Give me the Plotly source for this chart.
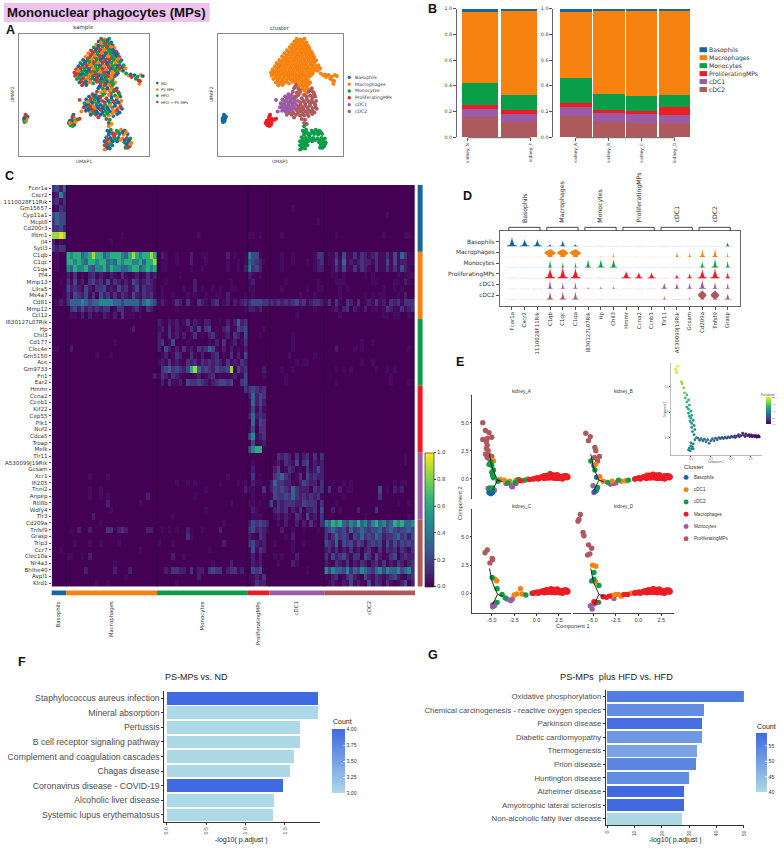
"""Mononuclear phagocytes (MPs): multi-panel figure, panels A to G."""
import plotly.graph_objects as go

W, H = 784, 849
MPL = "DejaVu Sans"
ARIAL = "Liberation Sans"

BLUE, ORANGE, GREEN, RED, PURPLE, BROWN = "#17679f", "#f8820f", "#0a9e48", "#ed1c24", "#9c5ba5", "#ae5a5c"
CLUSTERS = ["Basophils", "Macrophages", "Monocytes", "ProliferatingMPs", "cDC1", "cDC2"]
CLUSTER_COLORS = [BLUE, ORANGE, GREEN, RED, PURPLE, BROWN]

# Panel A: UMAP points per cluster, read in picture units
UMAP_MAC = [(240,20),(252,22),(263,20),(233,28),(246,30),(258,29),(269,31),(226,37),(238,38),(251,39),(262,41),(273,40),
            (219,46),(231,47),(243,49),(256,48),(268,50),(278,48),(211,55),(224,57),(236,58),(248,59),(260,58),(272,60),
            (283,58),(203,64),(216,66),(229,67),(241,68),(253,69),(266,67),(278,69),(288,66),(196,74),(208,76),(221,76),
            (233,78),(246,77),(258,79),(270,78),(283,78),(292,75),(188,84),(200,85),(213,86),(226,87),(238,86),(251,88),
            (263,89),(276,87),(288,88),(298,85),(180,93),(193,95),(206,96),(218,95),(231,97),(243,98),(256,97),(268,98),
            (281,97),(293,99),(175,103),(187,104),(199,106),(212,105),(224,107),(237,106),(249,108),(262,107),(274,108),
            (286,107),(300,106),(168,112),(180,114),(193,115),(205,116),(218,115),(230,117),(243,116),(255,118),(268,117),
            (280,116),(293,115),(163,122),(175,124),(187,125),(200,124),(212,126),(225,125),(237,127),(250,126),(262,127),
            (275,125),(288,124),(165,132),(178,134),(190,133),(203,135),(215,134),(228,136),(240,135),(253,137),(265,136),
            (278,134),(170,142),(183,144),(196,143),(209,145),(222,144),(235,146),(248,145),(260,147),(273,144),(178,152),
            (190,154),(203,153),(217,155),(238,154),(252,156),(266,155),(280,152),(185,161),(197,160),(245,165),(258,166),
            (271,165),(252,175),(264,177),(276,174),(250,185),(268,186),(303,117),(312,125),(320,131),(328,136),(336,130),
            (345,135),(354,130),(360,133),(340,141),(348,146),(350,156),(352,148),(325,128),(305,100),(310,110),
            (246,25),(258,25),(239,33),(252,34),(263,35),(232,42),(245,43),(257,44),(270,45),(225,52),(237,53),(250,54),
            (262,54),(274,54),(217,61),(230,62),(242,63),(254,64),(266,63),(278,63),(210,70),(222,71),(235,72),(247,73),
            (259,73),(272,73),(284,72),(202,80),(214,81),(227,82),(239,82),(252,83),(264,83),(276,82),(290,81),(194,90),
            (206,90),(219,91),(232,92),(244,92),(257,93),(269,92),(282,92),(294,90),(186,99),(198,100),(211,100),(224,102),
            (236,102),(248,103),(261,102),(273,103),(287,102),(181,109),(192,110),(205,111),(218,110),(230,112),(243,111),
            (255,113),(268,112),(280,112),(292,110),(172,118),(185,119),(197,120),(210,120),(222,121),(235,121),(248,122),
            (260,122),(272,120),(285,120),(170,127),(182,129),(194,129),(207,130),(220,130),(233,131),(246,131),(258,132),
            (270,131),(284,129),(176,138),(188,139),(201,139),(214,140),(228,140),(241,140),(254,142),(267,141),(183,148),
            (196,149),(209,150),(228,150),(243,150),(257,151),(271,149),(250,160),(262,160),(275,158),(258,171),(270,170)]
UMAP_CDC2 = [(238,160),(232,170),(245,172),(228,180),(240,183),(285,170),(275,180),(290,182),(262,190),(280,192),(295,195),
             (255,200),(270,203),(285,205),(298,208),(250,212),(265,215),(280,216),(295,220),(245,224),(258,227),(272,228),
             (288,230),(300,232),(240,236),(252,239),(266,240),(280,241),(293,243),(225,250),(238,250),(250,252),(262,252),
             (275,254),(255,263),(265,265),(262,275),(270,278),(232,258),(218,245),(245,190),(250,178),(235,195),
             (235,165),(283,176),(292,188),(270,196),(287,198),(260,208),(275,210),(290,213),(252,220),(266,222),(280,223),
             (296,226),(248,231),(260,234),(274,235),(286,236),(244,244),(258,246),(272,247),(286,248),(230,245)]
UMAP_CDC1 = [(215,188),(225,190),(205,195),(215,198),(228,200),(238,196),(197,204),(208,207),(220,209),(232,211),(243,208),
             (192,215),(203,218),(215,220),(227,222),(238,220),(190,227),(200,230),(212,232),(224,233),(235,232),(196,238),
             (207,241),(218,243),(210,250),(178,205),(183,240),(245,230),(220,193),(210,202),(222,204),(233,205),(202,211),
             (214,213),(226,216),(197,221),(208,225),(219,227),(231,227),(204,235),(216,237),(226,240)]
UMAP_MONO = [(262,285),(268,295),(258,298),(272,305),(262,310),(285,298),(297,295),(308,298),(280,308),(292,308),(304,310),
             (316,308),(255,318),(266,320),(278,318),(290,320),(302,322),(314,320),(324,322),(250,330),(262,332),(274,330),
             (286,330),(307,333),(318,333),(327,335),(250,342),(262,344),(272,342),(312,345),(322,345),(255,352),(265,352),
             (310,350),(250,355),(263,302),(275,311),(290,303),(302,303),(312,303),(258,325),(270,326),(282,324),(296,326),
             (308,327),(320,327),(256,337),(268,338),(313,339),(324,339),(258,348),(317,350)]
UMAP_PROLIF = [(160,250),(157,260),(165,262),(150,268),(160,270),(172,265),(147,275),(155,278),(163,280),(178,262),(152,282),
               (155,268),(165,272),(158,255),(150,275),(158,284)]
UMAP_BASO = [(22,250),(28,256),(20,258),(25,262),(18,266),(22,270),(19,272),(24,254),(24,268),(18,261)]
SAMPLE_NAMES = ["ND", "PS-MPs", "HFD", "HFD + PS-MPs"]
SAMPLE_COLORS = [BLUE, ORANGE, GREEN, "#c8383c"]
# sample of each UMAP point, same order as the cluster lists above
SAMPLE_CODES = ("3120230132102312013203123120321301231023130212033120231032012301322103120312023102313202130"
                "2310321203102320130231203123021301233102302130210231302120132023103120321020313012031203"
                "3210231302120312013203201231023120321301230213023102312302130132023120130231023120320132"
                "0130210320103021032013021003201030210320130210032010302103201003201301203100320102031003"
                "0120302103010203013201002013201030210320130210032010302103201032013123031202310313213")

# Panel B: stacked fractions, one list per cluster, groups kidney_N/F then A/B/C/D
SAMPLES_B1 = ["kidney_N", "kidney_F"]
SAMPLES_B2 = ["kidney_A", "kidney_B", "kidney_C", "kidney_D"]
FRAC_CDC2 = [0.155, 0.116, 0.165, 0.119, 0.113, 0.113]
FRAC_CDC1 = [0.067, 0.064, 0.072, 0.069, 0.073, 0.060]
FRAC_PROLIF = [0.025, 0.034, 0.031, 0.023, 0.015, 0.059]
FRAC_MONO = [0.171, 0.111, 0.191, 0.127, 0.116, 0.100]
FRAC_MAC = [0.556, 0.665, 0.515, 0.641, 0.673, 0.653]
FRAC_BASO = [0.026, 0.010, 0.026, 0.021, 0.010, 0.015]

# Panel C: heatmap
GENES = ["Fcer1a", "Cxcr2", "1110028F11Rik", "Gm15657", "Cyp11a1", "Mcpt8", "Cd200r3", "Ifitm1", "Il4", "Sytl3",
         "C1qb", "C1qc", "C1qa", "Pf4", "Mmp13", "Lilra5", "Ms4a7", "Cd81", "Mmp12", "Ccl12",
         "I830127L07Rik", "Hp", "Chil3", "Cd177", "Clec4e", "Gm5150", "Ace", "Gm9733", "Fn1", "Ear2",
         "Hmmr", "Ccna2", "Ccnb1", "Kif22", "Cep55", "Plk1", "Nuf2", "Cdca5", "Troap", "Melk",
         "Tlr11", "A530099J19Rik", "Gcsam", "Xcr1", "Ifi205", "Tnni2", "Anpep", "Rtl8b", "Wdfy4", "Tlr3",
         "Cd209a", "Tnfsf9", "Grasp", "Trip3", "Ccr7", "Clec10a", "Nr4a3", "Bhlhe40", "Avpl1", "Klrd1"]
HEAT_GROUP_CELLS = [4, 25, 25, 6, 15, 25]
HEAT_LEVELS = [0, 0.03, 0.08, 0.14, 0.22, 0.32, 0.46, 0.62, 0.85, 0.95]
# one row per gene, digit = index into HEAT_LEVELS, groups by cluster, short groups end in zeros
HEAT_ROWS = [
    "3425 0 0 0 0 0",
    "1263 0 0 0 0 0",
    "2313 0 0 0 0 0",
    "0132 0 0 0 0000001 0",
    "4544 0 0 0 0 000000000000000001",
    "3544 0 0 0 00000000000001 0",
    "3342 0 0 0 0 0",
    "8898 0000000000000001 000000000001 110100 0001 0001000000000000100000110",
    "2010 0000000000001 0 0 0 0",
    "3233 0 0 0 0 0",
    "0100 7677567877567776578767787 0210010002001100000201001 644100 000100100000133 0113041131321231131415311",
    "0100 7767657767756576776675778 0110010002000100000100101 543210 000100100010123 0114151212322131141412211",
    "0100 6576675466757665567756767 0110000001001000000100102 634200 000100000000122 0013141131321031131314210",
    "0000 2030102312102103101201312 0000001000000000000000000 210100 0 0011010000010100000010111",
    "0010 3141203423141321214312321 0010000000200000000010000 120000 000010000000010 0001110000000110000110210",
    "0000 4232142033412142312413221 0100000100201001010011000 110000 000100000010011 0000101000000000100101000",
    "0001 3143241304231313214213231 0100100010100100110200001 010000 000000001000100 0000100000010101100010200",
    "0121 3555654556666554555535654 1210132031032102301202123 344433 323232342312332 1303103203012131203231333",
    "0000 0342423232330133112310320 0000010000000000000000001 221200 000000000000100 0012023021020110132113123",
    "0000 0110202010210203111010000 0 0 000000010000000 0000100000000000110110010",
    "0 0 2102120130210220010202523 0 0 0",
    "0 000000000000000000200 1203021013140340102301434 000010 0 0",
    "0 0 2103120201301023101203204 000100 000000100000000 0",
    "0 00000000000001 2301400010000010203012013 0 000000100000000 000000000010010",
    "1100 02 2042020312032354102020102 0 000000100000000 0002000010100000000000010",
    "0 00000000100010 0120132003102002301030204 0 000001000000100 0",
    "0 0 1213121032313232320312132 0 0000000101100 0000000000100100",
    "0 0 0345343247853432433480423 000020 000100100000000 0001010100000010010100",
    "0 0000000000000000000000002 1320321000120123010012014 000010 000010000000000 0000000000000000001",
    "0 0 0203112043343212344340034 0 000010000000000 0001000000000000001000010",
    "0 0 0000000000000000000000003 343230 0 0",
    "0 0 0 252430 0 0",
    "0 0 0 152420 0 0",
    "0 0 0 141310 0 0",
    "0 0 0 252320 0 0",
    "0 0 0 051430 0 0",
    "0 0 0 140330 0 0",
    "0 0 0 461230 0 0",
    "0 0 0 040120 0 0",
    "0 0 0 467700 0 0",
    "0 0 0 000000 003232030230303 0000000000000000000000100",
    "0 0 0 010000 012032140340212 0000000000000000000000100",
    "0 0 0 020000 024013201031242 0",
    "0 00000010000100 000000000000000000010 030100 034532013042322 0",
    "0 0 0000010010100000010000101 021100 253322102432203 0010010100000000000101100",
    "0 000000100100000 0000000000000100000000002 110030 243432532220323 0300201100000004010212",
    "0 0000001001010000000000200 00000000001 010010 143343532323231 0000010000000003000000",
    "1000 00000000000200000000100 000000000000000000001 110100 413233322433303 0001000000000000000010010",
    "0 00000000000010 0000000000000100 021000 023230213022304 002010000200003000",
    "0 0000000200000000000000 0000100000000 011100 012121032041203 0000000000010000000000010",
    "0 00000000010000000000 0000000000000000001 243432 001020020203103 6576754657564675645767556",
    "0 0102002000033023200000220 0101010020001000020000000 342321 000200100100010 3454342534543445345434454",
    "0 0 0000000031 210320 000010200000000 3135343143534354233453424",
    "0 00100010010000100000000003 1000100000000000002 342120 010000100100000 4325143424313434142424343",
    "0010 00000000000000000000100 00000000000000100 141320 000000100000000 2313021312023103132313213",
    "0 1100102000000000000000000 0000200100000000 020200 010100020000000 3142342133043142013402322",
    "0 0000000000000100000000 00000000000000010000200 021200 001000210000000 2103213021320231302132023",
    "0 00000200000002000200000000 0021332203022034330233120 043400 000000000010000 6465546354654356465564563",
    "0 00000000000000001 0000000000020000000 012130 0 1023013421042132123421023",
    "0 00000000100100 00000100000000 013220 0 0121021412104132031012402",
]

# Panel D: violins, peak height and base half width in pixels, rows are clusters
VIOLIN_GENES = ["Fcer1a", "Cxcr2", "1110028F11Rik", "C1qb", "C1qc", "C1qa", "I830127L07Rik", "Hp", "Chil3",
                "Hmmr", "Ccna2", "Ccnb1", "Tlr11", "A530099J19Rik", "Gcsam", "Cd209a", "Tnfsf9", "Grasp"]
VIOLIN_H = [[9, 7, 7, 2, 6, 2, 0, 0, 0, 0, 0, 0, 0, 0, 0, 0, 0, 4],
            [0, 0, 0, 8, 8, 8, 0, 1, 5, 0, 0, 0, 0, 6, 5, 8, 9, 6],
            [0, 0, 0, 8, 6, 6, 8, 8, 8, 0, 0, 0, 0, 0, 0, 6, 9, 7],
            [0, 0, 0, 10, 11, 10, 0, 0, 0, 7, 6, 6, 0, 4, 5, 9, 10, 6],
            [0, 0, 0, 9, 7, 7, 2, 3, 3, 0, 0, 0, 6, 6, 6, 9, 7, 6],
            [0, 0, 0, 8, 8, 8, 0, 0, 0, 0, 0, 0, 4, 1, 3, 9, 9, 6]]
VIOLIN_W = [[5, 5, 4.5, 3, 3, 3, 0, 0, 0, 0, 0, 0, 0, 0, 0, 0, 0, 2],
            [0, 0, 0, 6, 6, 6, 0, 1, 1, 0, 0, 0, 0, 1.5, 1.5, 2.5, 2.5, 1],
            [0, 0, 0, 2, 1.5, 1.5, 3, 3.5, 3.5, 0, 0, 0, 0, 0, 0, 2.5, 3, 2],
            [0, 0, 0, 5, 5, 5, 0, 0, 0, 5, 4, 4, 0, 2.5, 2.5, 4.5, 4.5, 2.5],
            [0, 0, 0, 2.5, 2, 2, 1.5, 1.5, 1.5, 0, 0, 0, 3, 2.5, 2.5, 3.5, 2.5, 2],
            [0, 0, 0, 3, 3, 3, 0, 0, 0, 0, 0, 0, 1.5, 1, 1, 4.5, 4.5, 3]]
VIOLIN_BLOBS = [(1, 3), (1, 4), (1, 5), (5, 15), (5, 16)]
SPIKE_PROFILE = [(0, 1.0), (0.08, 1.0), (0.14, 0.5), (0.4, 0.26), (0.7, 0.12), (1, 0.02)]
BLOB_PROFILE = [(0, 0.5), (0.12, 0.3), (0.32, 0.75), (0.5, 1.0), (0.68, 0.75), (0.88, 0.3), (1, 0.05)]

# Panel E: trajectory points (x, y, cluster code) for each kidney
E_NAMES = {"B": "Basophils", "1": "cDC1", "2": "cDC2", "M": "Macrophages", "N": "Monocytes", "P": "ProliferatingMPs"}
E_COLORS = {"B": BLUE, "1": ORANGE, "2": GREEN, "M": RED, "N": PURPLE, "P": BROWN}
E_ORDER = ["P", "N", "B", "1", "2", "M"]
TRUNK_RED = [(-0.2,0.05),(0.2,0.0),(0.5,0.15),(0.7,0.1),(1.0,0.2),(1.3,0.3),(1.5,0.2),(1.7,0.35),(1.9,0.2),(2.0,0.35),
             (2.2,0.15),(2.4,0.3),(2.6,0.15),(2.8,0.25),(3.0,0.1),(3.2,0.2),(3.4,0.1),(3.4,0.25),(2.2,0.3),(1.2,0.1),
             (0.9,0.05),(3.1,0.3),(2.7,0.05),(0.35,0.1),(0.6,0.2),(0.85,0.25),(1.1,0.32),(1.4,0.08),(1.6,0.42),(1.8,0.08),
             (2.1,0.05),(2.3,0.38),(2.5,0.05),(2.9,0.0),(3.3,0.3),(3.5,0.17),(0.05,0.12),(-0.4,0.0)]
E_A = [(-6.0,5.0,"P"),(-5.7,4.3,"P"),(-5.3,4.1,"P"),(-5.0,3.7,"P"),(-5.5,3.6,"P"),(-6.0,3.5,"P"),(-5.6,3.3,"P"),(-5.5,3.0,"P"),
       (-5.6,2.7,"P"),(-5.4,2.5,"P"),(-5.7,2.2,"P"),(-5.3,2.1,"P"),(-5.0,2.0,"P"),(-5.5,1.9,"P"),(-5.2,1.7,"P"),
       (-5.0,1.7,"1"),(-4.8,1.6,"1"),(-5.1,1.5,"2"),(-5.3,1.3,"2"),(-5.0,1.2,"2"),(-4.8,0.8,"2"),(-5.0,0.6,"2"),(-4.9,0.3,"2"),
       (-4.8,0.1,"2"),(-5.4,-0.85,"N"),(-4.7,-1.0,"N"),(-5.2,-0.8,"2"),(-4.9,-0.8,"2"),(-5.1,-1.3,"B"),(-5.3,-1.2,"B"),(-4.9,-1.2,"B"),
       (-3.4,-0.4,"N"),(-2.8,-0.6,"N"),(-2.7,-0.7,"N"),(-2.3,-0.4,"N"),(-4.1,-0.05,"1"),(-3.6,-0.1,"1"),(-3.0,-0.2,"1"),
       (-2.3,-0.1,"1"),(-1.5,-0.15,"1"),(-1.0,0.0,"1"),(-0.3,0.0,"1"),(1.1,0.15,"1"),(-4.3,-0.2,"2"),(-3.2,-0.35,"2"),
       (-2.4,-0.3,"2"),(-2.0,-0.05,"2"),(-1.3,-0.1,"2"),(-1.8,-0.15,"M"),(-0.8,-0.05,"M"),(0.3,0.05,"2"),(0.8,0.3,"2"),(1.5,0.5,"2")]
E_B = [(-5.8,4.06,"P"),(-5.3,3.76,"P"),(-5.5,3.4,"P"),(-4.8,2.8,"P"),(-4.7,2.5,"P"),(-4.85,1.9,"P"),(-4.3,2.0,"P"),(-4.5,1.6,"P"),
       (-5.25,1.6,"2"),(-4.7,1.3,"1"),(-4.9,1.2,"B"),(-4.6,0.15,"B"),(-4.8,0.8,"2"),(-4.25,0.2,"1"),(-5.0,-0.6,"N"),(-4.5,-0.75,"2"),
       (-4.8,-1.1,"B"),(-4.6,-1.0,"N"),(-4.9,-1.2,"N"),(-3.9,-0.2,"1"),(-3.4,-0.3,"2"),(-3.1,-0.45,"N"),(-2.8,-0.4,"N"),(-2.5,-0.35,"N"),
       (-2.9,-0.2,"1"),(-2.2,-0.1,"2"),(-1.9,-0.2,"1"),(-1.4,-0.15,"1"),(-1.1,-0.1,"2"),(-0.4,0.0,"2"),(-0.1,0.05,"1"),(0.4,0.1,"M"),
       (0.9,0.35,"1"),(1.2,0.35,"1"),(2.9,0.3,"2")]
E_C = [(-5.5,3.85,"P"),(-5.75,3.6,"P"),(-4.95,3.1,"P"),(-4.9,3.0,"P"),(-5.2,2.7,"P"),(-4.95,1.4,"2"),(-4.65,1.25,"1"),(-4.45,1.1,"1"),
       (-4.4,0.4,"2"),(-4.9,-1.0,"N"),(-4.7,-1.1,"N"),(-4.6,-0.9,"N"),(-4.9,-1.2,"N"),(-4.4,-0.8,"2"),(-3.85,-0.1,"2"),(-3.5,-0.4,"2"),
       (-3.3,-0.5,"N"),(-2.9,-0.65,"N"),(-2.7,-0.5,"N"),(-2.5,-0.15,"1"),(-2.2,-0.05,"1"),(-1.8,0.4,"1"),(-1.6,-0.05,"1"),(-1.2,-0.15,"2"),
       (-0.5,0.0,"2"),(0.0,0.05,"M"),(1.6,0.35,"2")]
E_D = [(-6.4,7.0,"P"),(-6.55,6.55,"P"),(-6.65,6.4,"P"),(-6.1,5.4,"P"),(-6.0,5.1,"P"),(-5.5,4.3,"P"),(-5.15,4.0,"P"),(-5.6,3.4,"P"),(-5.35,3.5,"P"),
       (-5.05,2.5,"1"),(-4.7,2.4,"1"),(-4.9,1.85,"2"),(-5.15,1.1,"2"),(-4.9,1.25,"2"),(-4.35,0.7,"2"),(-4.7,1.0,"1"),(-4.9,-0.75,"M"),(-4.7,-0.8,"M"),
       (-5.3,-1.1,"N"),(-5.1,-1.4,"N"),(-4.85,-0.95,"N"),(-4.4,-0.8,"2"),(-3.9,-0.3,"M"),(-3.5,-0.35,"M"),(-3.2,-0.25,"M"),(-2.9,-0.2,"1"),
       (-2.7,-0.45,"N"),(-2.5,-0.1,"1"),(-2.2,-0.1,"1"),(-1.9,-0.25,"1"),(-1.6,-0.1,"M"),(-1.2,-0.1,"M"),(-0.8,0.0,"1"),(-0.4,0.05,"M"),(0.1,0.05,"M"),
       (1.4,0.3,"2"),(1.7,0.4,"1")]
TRAJECTORY_X = [-5.25, -4.95, -4.35, None, -4.35, -4.9, None, -4.35, -3.8]
TRAJECTORY_Y = [2.2, 1.0, -0.1, None, -0.1, -1.0, None, -0.1, -0.25]
# inset: x, y, pseudotime
INSET_POINTS = [(3.6,0.08,0.1),(3.5,0.2,0.2),(3.3,0.05,0.3),(3.2,0.2,0.4),(3.0,0.1,0.5),(2.9,0.22,0.6),(2.7,0.1,0.8),(2.6,0.28,0.9),(2.4,0.12,1.0),
                (2.3,0.3,1.1),(2.1,0.2,1.2),(1.9,0.38,1.3),(1.8,0.12,1.4),(1.6,0.28,1.5),(1.5,0.45,1.6),(1.3,0.2,1.7),(1.1,0.1,1.9),(1.0,0.3,2.0),
                (0.8,0.15,2.1),(0.6,0.02,2.3),(0.5,0.18,2.4),(0.3,0.05,2.5),(0.1,0.12,2.7),(-0.1,0.0,2.8),(-0.3,0.08,2.9),(-0.5,-0.05,3.0),(-0.7,0.05,3.1),
                (-0.9,-0.08,3.2),(-1.1,0.02,3.3),(-1.3,-0.1,3.5),(-1.5,0.0,3.6),(-1.7,-0.2,3.7),(-1.9,-0.05,3.8),(-2.1,-0.3,3.9),(-2.3,-0.1,4.0),(-2.5,-0.3,4.1),
                (-2.7,-0.55,4.2),(-2.9,-0.2,4.3),(-3.1,-0.4,4.4),(-3.3,-0.15,4.5),(-3.5,-0.3,4.6),(-3.7,-0.1,4.7),(-3.9,-0.25,4.8),(-4.1,-0.05,4.9),(-4.3,0.0,5.0),
                (-4.5,-0.2,5.2),(-4.7,-0.6,5.5),(-5.0,-0.8,5.6),(-4.8,-0.9,5.6),(-5.2,-1.0,5.7),(-4.9,-1.1,5.7),(-5.1,-1.3,5.8),(-5.3,-1.2,5.8),(-4.7,-1.1,5.7),
                (-5.0,-0.5,5.5),(-4.6,0.3,5.4),(-4.8,0.6,5.6),(-4.5,0.8,5.7),(-4.9,1.0,5.9),(-4.6,1.2,6.0),(-4.9,1.4,6.1),(-5.1,1.6,6.3),(-4.7,1.7,6.4),(-5.0,1.9,6.6),
                (-5.2,2.1,6.7),(-4.9,2.2,6.8),(-5.3,2.4,7.0),(-5.0,2.6,7.2),(-5.3,2.8,7.3),(-5.5,3.0,7.5),(-5.2,3.2,7.7),(-5.5,3.5,8.0),(-5.3,3.7,8.2),(-5.7,3.9,8.5),
                (-5.5,4.2,8.8),(-5.8,4.4,9.1),(-5.9,4.9,9.5),(-6.1,5.3,10.0),(-6.2,5.5,10.2),(-6.8,6.4,11.2),(-6.9,6.7,11.5),(-6.7,7.0,12.0)]

# Panel F and G: enrichment bars
F_TERMS = ["Staphylococcus aureus infection", "Mineral absorption", "Pertussis", "B cell receptor signaling pathway",
           "Complement and coagulation cascades", "Chagas disease", "Coronavirus disease - COVID-19",
           "Alcoholic liver disease", "Systemic lupus erythematosus"]
F_VALUES = [1.916, 1.916, 1.693, 1.693, 1.618, 1.567, 1.479, 1.357, 1.345]
F_COUNTS = [4, 3, 3, 3, 3, 3, 4, 3, 3]
G_TERMS = ["Oxidative phosphorylation", "Chemical carcinogenesis - reactive oxygen species", "Parkinson disease",
           "Diabetic cardiomyopathy", "Thermogenesis", "Prion disease", "Huntington disease", "Alzheimer disease",
           "Amyotrophic lateral sclerosis", "Non-alcoholic fatty liver disease"]
G_VALUES = [50.0, 35.5, 34.7, 34.6, 32.7, 32.6, 29.8, 28.0, 28.0, 27.2]
G_COUNTS = [56, 53, 58, 51, 49, 54, 53, 59, 59, 40]
COUNT_SCALE = [[0, "#add8e6"], [1, "#4169e1"]]


def fx(px):
    return px / W


def fy(px):
    return 1 - px / H


layout = dict(width=W, height=H, margin=dict(l=0, r=0, t=0, b=0), paper_bgcolor="white", plot_bgcolor="white",
              showlegend=False, barmode="stack", font=dict(family=MPL, color="#333333"))
annotations = []
shapes = []
fig = go.Figure()


def panel(n, x0, x1, y0, y1, xkw=None, ykw=None):
    """Place axes pair n on the page using pixel edges."""
    base = dict(showgrid=False, zeroline=False)
    layout[f"xaxis{n}"] = dict(domain=[fx(x0), fx(x1)], anchor=f"y{n}", **base, **(xkw or {}))
    layout[f"yaxis{n}"] = dict(domain=[fy(y1), fy(y0)], anchor=f"x{n}", **base, **(ykw or {}))
    return dict(xaxis=f"x{n}", yaxis=f"y{n}")


def note(x, y, text, size, family=MPL, color="#333333", xanchor="left", yanchor="middle", angle=0):
    annotations.append(dict(x=fx(x), y=fy(y), xref="paper", yref="paper", text=text, showarrow=False, xanchor=xanchor,
                            yanchor=yanchor, textangle=angle, borderpad=0, font=dict(size=size, family=family, color=color)))


def line(x0, y0, x1, y1, color="#555555", width=1):
    shapes.append(dict(type="line", xref="paper", yref="paper", x0=fx(x0), y0=fy(y0), x1=fx(x1), y1=fy(y1),
                       line=dict(color=color, width=width)))


def rect(x0, y0, x1, y1, color):
    shapes.append(dict(type="rect", xref="paper", yref="paper", x0=fx(x0), y0=fy(y0), x1=fx(x1), y1=fy(y1),
                       fillcolor=color, line=dict(width=0), layer="below"))


def dot(x, y, r, color):
    shapes.append(dict(type="circle", xref="paper", yref="paper", x0=fx(x - r), y0=fy(y - r), x1=fx(x + r), y1=fy(y + r),
                       fillcolor=color, line=dict(width=0)))


# title band and panel letters
rect(2, 1, 209, 20, "#efc3ef")
note(105.5, 10.5, "<b>Mononuclear phagocytes (MPs)</b>", 13.2, ARIAL, "#111111", xanchor="center")
for letter, lx, ly in [("A", 3, 28), ("B", 428, 7), ("C", 2, 175), ("D", 463, 195), ("E", 456, 362), ("F", 15, 664), ("G", 428, 657)]:
    note(lx, ly, f"<b>{letter}</b>", 12.5, ARIAL, "#111111")

# Panel A
umap_axis = dict(range=[3, 378], showticklabels=False, ticks="", showline=True, mirror=True, linecolor="#8a8a8a", linewidth=1)
umap_yaxis = dict(range=[375, 5], showticklabels=False, ticks="", showline=True, mirror=True, linecolor="#8a8a8a", linewidth=1)
all_points = UMAP_MAC + UMAP_CDC2 + UMAP_CDC1 + UMAP_MONO + UMAP_PROLIF + UMAP_BASO
sample_colors = [SAMPLE_COLORS[int(c)] for c in SAMPLE_CODES[:len(all_points)]]
ax = panel(1, 17, 148, 32, 155, umap_axis, umap_yaxis)
fig.add_trace(go.Scatter(x=[p[0] for p in all_points], y=[p[1] for p in all_points], mode="markers", **ax,
                         marker=dict(size=3.9, color=sample_colors)))
ax = panel(2, 217, 343, 32, 155, umap_axis, umap_yaxis)
for pts, color in [(UMAP_BASO, BLUE), (UMAP_MAC, ORANGE), (UMAP_MONO, GREEN), (UMAP_PROLIF, RED), (UMAP_CDC1, PURPLE), (UMAP_CDC2, BROWN)]:
    fig.add_trace(go.Scatter(x=[p[0] for p in pts], y=[p[1] for p in pts], mode="markers", **ax,
                             marker=dict(size=4, color=color)))
note(82.5, 26, "sample", 5.6, xanchor="center")
note(280, 26, "cluster", 5.6, xanchor="center")
note(82.5, 160.5, "UMAP1", 4.6, xanchor="center")
note(279.5, 160.5, "UMAP1", 4.6, xanchor="center")
note(11, 93, "UMAP2", 4.6, xanchor="center", angle=-90)
note(210.5, 93, "UMAP2", 4.6, xanchor="center", angle=-90)
for i, name in enumerate(SAMPLE_NAMES):
    yy = [81.6, 88, 94.2, 100.6][i]
    dot(156.3, yy, 1.3, SAMPLE_COLORS[i])
    note(159.5, yy, name, 3.8)
for i, name in enumerate(CLUSTERS):
    yy = 75.8 + i * 6.85
    dot(349.5, yy, 1.7, CLUSTER_COLORS[i])
    note(354.5, yy, name, 4.6)

# Panel B
tick_b = dict(ticks="outside", ticklen=3, tickwidth=1, tickcolor="#555555", tickfont=dict(size=4.4, family=MPL, color="#333333"),
              tickangle=-90, showline=False)
tick_y = dict(range=[0, 1], tickvals=[0, 0.2, 0.4, 0.6, 0.8, 1.0], ticktext=["0.0", "0.2", "0.4", "0.6", "0.8", "1.0"],
              ticks="outside", ticklen=3, tickwidth=1, tickcolor="#555555", showline=True, linecolor="#666666", linewidth=1,
              tickfont=dict(size=4.8, family=MPL, color="#333333"))
ax_b1 = panel(3, 458, 540, 6.7, 136, dict(range=[-0.59, 1.51], tickvals=[-0.31, 1.31], ticktext=SAMPLES_B1, **tick_b), tick_y)
ax_b2 = panel(4, 555, 695, 6.7, 136, dict(range=[-0.68, 3.54], tickvals=[0, 1, 2, 3], ticktext=SAMPLES_B2, **tick_b), tick_y)
stack = [(FRAC_CDC2, BROWN), (FRAC_CDC1, PURPLE), (FRAC_PROLIF, RED), (FRAC_MONO, GREEN), (FRAC_MAC, ORANGE), (FRAC_BASO, BLUE)]
for values, color in stack:
    fig.add_trace(go.Bar(x=[0, 1], y=values[:2], width=0.92, marker=dict(color=color, line=dict(width=0)), **ax_b1))
    fig.add_trace(go.Bar(x=[0, 1, 2, 3], y=values[2:], width=0.95, marker=dict(color=color, line=dict(width=0)), **ax_b2))
line(469, 136.5, 532, 136.5)
line(577.5, 136.5, 677, 136.5)
for i, name in enumerate(CLUSTERS):
    yy = 48 + i * 8
    rect(702, yy - 2.5, 709.5, yy + 2.5, CLUSTER_COLORS[i])
    note(710.8, yy, name, 6.1)

# Panel C
heat_z = []
for row in HEAT_ROWS:
    cells = ""
    for group, width in zip(row.split(), HEAT_GROUP_CELLS):
        cells += group.ljust(width, "0")[:width]
    heat_z.append([HEAT_LEVELS[int(c)] for c in cells])
ax = panel(5, 50, 415.7, 184, 588,
           dict(range=[-0.5, 99.5], showticklabels=False, ticks=""),
           dict(range=[59.5, -0.5], tickvals=list(range(60)), ticktext=GENES, ticks="outside", ticklen=2, tickwidth=0.5,
                tickcolor="#555555", tickfont=dict(size=5.6, family=MPL, color="#333333")))
fig.add_trace(go.Heatmap(z=heat_z, colorscale="Viridis", zmin=0, zmax=1, xgap=0, ygap=0, **ax,
                         colorbar=dict(x=fx(426), xanchor="left", xpad=0, ypad=0, y=fy(588), yanchor="bottom",
                                       lenmode="pixels", len=134, thicknessmode="pixels", thickness=9,
                                       tickvals=[0, 0.2, 0.4, 0.6, 0.8, 1.0], ticktext=["0.0", "0.2", "0.4", "0.6", "0.8", "1.0"],
                                       ticks="outside", ticklen=2, tickwidth=0.6, outlinewidth=0.7, outlinecolor="#333333",
                                       tickfont=dict(size=5.4, family=MPL, color="#333333"))))
# cluster dividers, colour strips and labels
edge = 0
for i, cells in enumerate(HEAT_GROUP_CELLS):
    x0 = 50 + edge * 3.657
    x1 = 50 + (edge + cells) * 3.657
    rect(x0, 592, x1, 596.7, CLUSTER_COLORS[i])
    note((x0 + x1) / 2, 602, CLUSTERS[i], 5.4, xanchor="center", yanchor="top", angle=-90)
    rect(418.3, 184 + i * 67.33, 423.3, 184 + (i + 1) * 67.33, CLUSTER_COLORS[i])
    edge += cells
    if i < 5:
        line(50 + edge * 3.657, 184, 50 + edge * 3.657, 588, "#240a3c", 0.7)

# Panel D
ax = panel(6, 501, 743, 230.7, 305.7,
           dict(range=[-0.96, 17.99], tickvals=list(range(18)), ticktext=VIOLIN_GENES, tickangle=-90, ticks="outside", ticklen=3,
                tickcolor="#555555", tickwidth=0.7, showline=True, mirror=True, linecolor="#666666", linewidth=1,
                tickfont=dict(size=5.4, family=MPL, color="#333333")),
           dict(range=[5.6, -1.4], tickvals=[i - 0.42 for i in range(6)], ticktext=CLUSTERS, ticks="outside", ticklen=3,
                tickcolor="#555555", tickwidth=0.7, showline=True, mirror=True, linecolor="#666666", linewidth=1,
                tickfont=dict(size=5.8, family=MPL, color="#333333")))
for r, color in enumerate(CLUSTER_COLORS):
    bx, by, vx, vy = [], [], [], []
    for c in range(18):
        bx += [c - 0.42, c + 0.42, None]
        by += [r, r, None]
        h = VIOLIN_H[r][c] / 10.72
        w = VIOLIN_W[r][c] / 12.77
        if h == 0:
            continue
        profile = BLOB_PROFILE if (r, c) in VIOLIN_BLOBS else SPIKE_PROFILE
        vx += [c - w * p[1] for p in profile] + [c + w * p[1] for p in reversed(profile)] + [None]
        vy += [r - h * p[0] for p in profile] + [r - h * p[0] for p in reversed(profile)] + [None]
    fig.add_trace(go.Scatter(x=bx, y=by, mode="lines", line=dict(color=color, width=0.5), opacity=0.25, **ax))
    fig.add_trace(go.Scatter(x=vx, y=vy, mode="lines", fill="toself", fillcolor=color, line=dict(width=0), **ax))
for i, name in enumerate(CLUSTERS):
    bx0 = 510 + i * 38.3
    bx1 = 541.5 + i * 38.3
    line(bx0, 226.7, bx1, 226.7, "#333333", 0.9)
    line(bx0, 226.7, bx0, 230, "#333333", 0.9)
    line(bx1, 226.7, bx1, 230, "#333333", 0.9)
    note((bx0 + bx1) / 2, 223, name, 6.2, xanchor="center", yanchor="bottom", angle=-90)

# Panel E
facets = [("kidney_A", E_A, 473.3, 573, 395, 500), ("kidney_B", E_B, 575, 676, 395, 500),
          ("kidney_C", E_C, 473.3, 573, 510, 615), ("kidney_D", E_D, 575, 676, 510, 615)]
for i, (title, pts, x0, x1, y0, y1) in enumerate(facets):
    left, bottom = i % 2 == 0, i >= 2
    xkw = dict(range=[-7.17, 3.88], tickvals=[-5, -2.5, 0, 2.5], ticktext=["-5.0", "-2.5", "0.0", "2.5"], showticklabels=bottom,
               ticks="outside" if bottom else "", ticklen=1.5, tickcolor="#333333", showline=bottom, linecolor="#444444", linewidth=1,
               tickfont=dict(size=5.4, family=ARIAL, color="#333333"))
    ykw = dict(range=[-1.78, 7.48], tickvals=[0, 2.5, 5], ticktext=["0.0", "2.5", "5.0"], showticklabels=left,
               ticks="outside" if left else "", ticklen=1.5, tickcolor="#333333", showline=left, linecolor="#444444", linewidth=1,
               tickfont=dict(size=5.4, family=ARIAL, color="#333333"))
    ax = panel(7 + i, x0, x1, y0, y1, xkw, ykw)
    for code in E_ORDER:
        sel = [p for p in pts if p[2] == code]
        fig.add_trace(go.Scatter(x=[p[0] for p in sel], y=[p[1] for p in sel], mode="markers", **ax,
                                 marker=dict(size=5.4, color=E_COLORS[code])))
    fig.add_trace(go.Scatter(x=[p[0] for p in TRUNK_RED], y=[p[1] for p in TRUNK_RED], mode="markers", **ax,
                             marker=dict(size=5.4, color=RED)))
    fig.add_trace(go.Scatter(x=TRAJECTORY_X, y=TRAJECTORY_Y, mode="lines", line=dict(color="#111111", width=0.9), **ax))
    note((x0 + x1) / 2, y0 - 3, title, 4.6, ARIAL, "#333333", xanchor="center")
note(575, 628, "Component 1", 5.6, ARIAL, xanchor="center")
note(461, 504, "Component 2", 5.6, ARIAL, xanchor="center", angle=-90)
note(685, 467, "Cluster", 6.2, ARIAL)
for i, code in enumerate(["B", "1", "2", "M", "N", "P"]):
    yy = 478.2 + i * 12.35
    dot(688.5, yy, 2.5, E_COLORS[code])
    note(695, yy, E_NAMES[code], 4.6, ARIAL)
ax = panel(11, 673, 765, 363, 456,
           dict(range=[-7.54, 3.96], tickvals=[-5, -2.5, 0, 2.5], ticktext=["-5.0", "-2.5", "0.0", "2.5"], showline=True, linecolor="#bbbbbb",
                linewidth=0.7, ticks="outside", ticklen=1, tickwidth=0.4, tickfont=dict(size=2.6, family=ARIAL, color="#555555")),
           dict(range=[-1.73, 7.35], tickvals=[0, 2.5, 5], ticktext=["0.0", "2.5", "5.0"], showline=True, linecolor="#bbbbbb",
                linewidth=0.7, ticks="outside", ticklen=1, tickwidth=0.4, tickfont=dict(size=2.6, family=ARIAL, color="#555555")))
fig.add_trace(go.Scatter(x=[p[0] for p in INSET_POINTS], y=[p[1] for p in INSET_POINTS], mode="markers", **ax,
                         marker=dict(size=2.8, color=[p[2] for p in INSET_POINTS], colorscale="Viridis", cmin=0, cmax=12,
                                     colorbar=dict(x=fx(769), xanchor="left", xpad=0, ypad=0, y=fy(425), yanchor="bottom", lenmode="pixels",
                                                   len=27, thicknessmode="pixels", thickness=4.5, outlinewidth=0, ticks="",
                                                   tickvals=[0, 3, 6, 9, 12], ticktext=["0.0", "3.0", "6.0", "9.0", "12.0"],
                                                   tickfont=dict(size=2.4, family=ARIAL, color="#555555")))))
note(719, 462.5, "Component 1", 2.6, ARIAL, "#555555", xanchor="center")
note(667, 410, "Component 2", 2.6, ARIAL, "#555555", xanchor="center", angle=-90)
note(771, 395.5, "Pseudotime", 2.6, ARIAL, "#555555", xanchor="center")

# Panels F and G
grey_text = dict(family=ARIAL, color="#4d4d4d")


def enrichment(n, terms, values, counts, box, x_range, x_ticks, cbar, label_size):
    x0, x1, y0, y1 = box
    ax = panel(n, x0, x1, y0, y1,
               dict(range=x_range, tickvals=x_ticks, tickangle=-90, showline=True, linecolor="#333333", linewidth=1, ticks="outside",
                    ticklen=2, tickcolor="#333333", tickformat=".1f" if n == 12 else "d", tickfont=dict(size=5.2, **grey_text)),
               dict(categoryorder="array", categoryarray=terms, autorange="reversed", showline=True, linecolor="#333333", linewidth=1,
                    ticks="outside", ticklen=2, tickcolor="#333333", tickfont=dict(size=label_size, **grey_text)))
    fig.add_trace(go.Bar(x=values, y=terms, orientation="h", width=0.87, **ax,
                         marker=dict(color=counts, colorscale=COUNT_SCALE, cmin=cbar["cmin"], cmax=cbar["cmax"], line=dict(width=0),
                                     colorbar=dict(x=fx(cbar["x"]), xanchor="left", xpad=0, ypad=0, y=fy(cbar["y1"]), yanchor="bottom",
                                                   lenmode="pixels", len=cbar["y1"] - cbar["y0"], thicknessmode="pixels", thickness=cbar["w"],
                                                   outlinewidth=0, ticks="inside", ticklen=2, tickcolor="white", tickvals=cbar["ticks"],
                                                   ticktext=cbar["labels"], tickfont=dict(size=5.2, family=ARIAL, color="#333333")))))


enrichment(12, F_TERMS, F_VALUES, F_COUNTS, (163.5, 320, 693, 825), [-0.028, 1.946], [0, 0.5, 1.0, 1.5],
           dict(cmin=3, cmax=4, x=331.7, y0=731.7, y1=795.7, w=12.6, ticks=[3, 3.25, 3.5, 3.75, 4],
                labels=["3.00", "3.25", "3.50", "3.75", "4.00"]), 8.7)
enrichment(13, G_TERMS, G_VALUES, G_COUNTS, (607.7, 746.7, 691.7, 828.3), [-0.47, 50.0], [0, 10, 20, 30, 40, 50],
           dict(cmin=40, cmax=59, x=759, y0=735.7, y1=795, w=11, ticks=[40, 45, 50, 55], labels=["40", "45", "50", "55"]), 7.8)
note(196, 678.7, "PS-MPs vs. ND", 9, ARIAL, "#222222", xanchor="center")
note(618, 678.7, "PS-MPs  plus HFD vs. HFD", 9.2, ARIAL, "#222222", xanchor="center")
note(241.5, 842.5, "-log10( p.adjust )", 7, ARIAL, "#222222", xanchor="center")
note(678, 843, "-log10( p.adjust )", 7, ARIAL, "#222222", xanchor="center")
note(332, 724, "Count", 7, ARIAL, "#222222")
note(759, 728.5, "Count", 7, ARIAL, "#222222")

layout["annotations"] = annotations
layout["shapes"] = shapes
fig.update_layout(**layout)
fig.write_html("out.html", config={"displayModeBar": False}, post_script="document.body.style.margin='0';")
